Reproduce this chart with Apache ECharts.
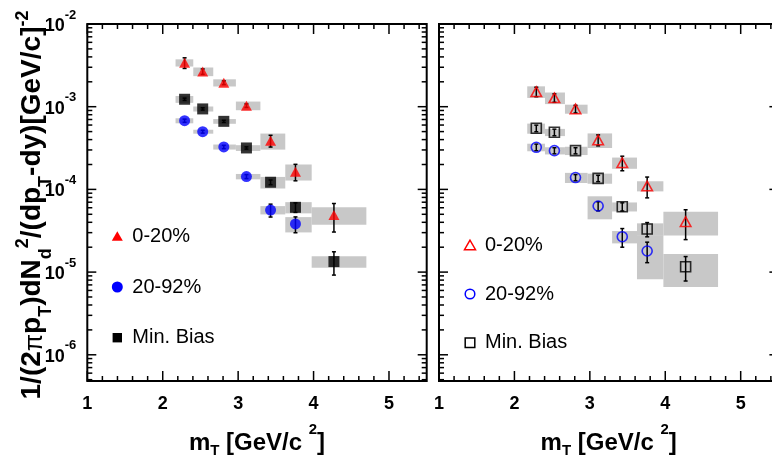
<!DOCTYPE html>
<html>
<head>
<meta charset="utf-8">
<script src="https://cdn.jsdelivr.net/npm/echarts@6/dist/echarts.min.js"></script>
<style>
  html, body { margin: 0; padding: 0; background: #fff; }
  #chart { width: 772px; height: 463px; }
</style>
</head>
<body>
<div id="chart"></div>
<script>
// Deuteron invariant yields vs transverse mass
const mT = [2.29, 2.53, 2.81, 3.11, 3.43, 3.76, 4.27];
const binEdges = [2.17, 2.405, 2.67, 2.97, 3.295, 3.625, 3.975, 4.70];
const xTickLabels = [1, 2, 3, 4, 5];
const yDecadeLabels = [-6, -5, -4, -3, -2];
const legendNames = ['0-20%', '20-92%', 'Min. Bias'];

// left panel: filled markers
const leftCentral     = [3.40e-3, 2.66e-3, 1.95e-3, 1.03e-3, 3.88e-4, 1.64e-4, 4.9e-5];
const leftCentralStat = [0.5e-3, 0.2e-3, 0.1e-3, 0.05e-3, 0.63e-4, 0.37e-4, 1.85e-5];
const leftCentralSys  = [0.10, 0.12, 0.10, 0.12, 0.22, 0.22, 0.24];

const leftPeriph      = [6.77e-4, 4.99e-4, 3.26e-4, 1.43e-4, 5.63e-5, 3.82e-5];
const leftPeriphStat  = [0.3e-4, 0.2e-4, 0.15e-4, 0.08e-4, 1.0e-5, 0.83e-5];
const leftPeriphSys   = [0.07, 0.055, 0.07, 0.075, 0.115, 0.21];

const leftMinBias     = [1.23e-3, 9.4e-4, 6.65e-4, 3.17e-4, 1.22e-4, 6.07e-5, 1.34e-5];
const leftMinBiasStat = [0.4e-4, 0.3e-4, 0.2e-4, 0.1e-4, 0.08e-4, 0.8e-5, 0.42e-5];
const leftMinBiasSys  = [0.095, 0.07, 0.066, 0.08, 0.16, 0.155, 0.16];

// right panel: open markers
const rightCentral     = [1.52e-3, 1.28e-3, 9.4e-4, 3.96e-4, 2.10e-4, 1.10e-4, 4.07e-5];
const rightCentralStat = [0.2e-3, 0.15e-3, 0.1e-3, 0.6e-4, 0.42e-4, 0.31e-4, 1.6e-5];
const rightCentralSys  = [0.16, 0.16, 0.125, 0.20, 0.155, 0.14, 0.32];

const rightPeriph      = [3.23e-4, 2.94e-4, 1.39e-4, 6.3e-5, 2.68e-5, 1.80e-5];
const rightPeriphStat  = [0.3e-4, 0.25e-4, 0.12e-4, 0.8e-5, 0.68e-5, 0.5e-5];
const rightPeriphSys   = [0.105, 0.10, 0.14, 0.31, 0.17, 0.545];

const rightMinBias     = [5.48e-4, 4.9e-4, 2.94e-4, 1.36e-4, 6.18e-5, 3.32e-5, 1.16e-5];
const rightMinBiasStat = [0.5e-4, 0.45e-4, 0.25e-4, 0.12e-4, 0.7e-5, 0.65e-5, 0.38e-5];
const rightMinBiasSys  = [0.14, 0.10, 0.115, 0.14, 0.125, 0.17, 0.43];

const X_MIN = 1, X_MAX = 5.5;
const Y_MIN = 4.82e-7, Y_MAX = 1e-2;
const FONT = '"Liberation Sans", Arial, Helvetica, sans-serif';
const RED = '#ff0000', BLUE = '#0000ff', BLACK = '#000000', BAND = '#c8c8c8';

const chart = echarts.init(document.getElementById('chart'), null, { renderer: 'canvas' });

function sysBoxes(g, vals, sys) {
  return {
    type: 'custom', xAxisIndex: g, yAxisIndex: g, z: 1, silent: true,
    data: vals.map((v, i) => [mT[i], v, sys[i], binEdges[i], binEdges[i + 1]]),
    encode: { x: 0, y: 1 },
    renderItem(params, api) {
      const v = api.value(1), s = api.value(2);
      const p0 = api.coord([api.value(3), v * (1 + s)]);
      const p1 = api.coord([api.value(4), v * (1 - s)]);
      return { type: 'rect', shape: { x: p0[0], y: p0[1], width: p1[0] - p0[0], height: p1[1] - p0[1] },
               style: { fill: BAND } };
    }
  };
}

function statBars(g, vals, stat) {
  return {
    type: 'custom', xAxisIndex: g, yAxisIndex: g, z: 2, silent: true,
    data: vals.map((v, i) => [mT[i], v, stat[i]]),
    encode: { x: 0, y: 1 },
    renderItem(params, api) {
      const x = api.value(0), v = api.value(1), e = api.value(2);
      const top = api.coord([x, v + e]);
      const bot = api.coord([x, Math.max(v - e, v * 0.05)]);
      const st = { stroke: BLACK, lineWidth: 1.5 };
      return { type: 'group', children: [
        { type: 'line', shape: { x1: top[0], y1: top[1], x2: bot[0], y2: bot[1] }, style: st },
        { type: 'line', shape: { x1: top[0] - 2, y1: top[1], x2: top[0] + 2, y2: top[1] }, style: st },
        { type: 'line', shape: { x1: bot[0] - 2, y1: bot[1], x2: bot[0] + 2, y2: bot[1] }, style: st }
      ] };
    }
  };
}

function markers(g, name, vals, symbol, size, itemStyle) {
  return {
    type: 'scatter', name, xAxisIndex: g, yAxisIndex: g, z: 10, silent: true,
    data: vals.map((v, i) => [mT[i], v]),
    symbol, symbolSize: size, itemStyle
  };
}

// frame tick marks on all four sides, drawn through the axis scales
function tickMarks(g) {
  return {
    type: 'custom', xAxisIndex: g, yAxisIndex: g, z: 12, silent: true,
    data: [[X_MIN, Y_MAX]],
    encode: { x: 0, y: 1 },
    renderItem(params, api) {
      const kids = [];
      const st = { stroke: BLACK, lineWidth: 1.5 };
      const yTop = api.coord([X_MIN, Y_MAX])[1];
      const yBot = api.coord([X_MIN, Y_MIN])[1];
      const xL = api.coord([X_MIN, Y_MAX])[0];
      const xR = api.coord([X_MAX, Y_MAX])[0];
      for (let k = 5; k <= 27; k++) {
        const px = api.coord([k / 5, Y_MAX])[0];
        const len = k % 5 === 0 ? 10 : 5;
        kids.push({ type: 'line', shape: { x1: px, y1: yBot, x2: px, y2: yBot - len }, style: st });
        kids.push({ type: 'line', shape: { x1: px, y1: yTop, x2: px, y2: yTop + len }, style: st });
      }
      for (let d = -7; d <= -2; d++) {
        for (let m = 1; m <= 9; m++) {
          const val = m * Math.pow(10, d);
          if (val < Y_MIN * 0.999 || val > Y_MAX * 1.001) continue;
          const py = api.coord([X_MIN, val])[1];
          const len = m === 1 ? 9 : 5;
          kids.push({ type: 'line', shape: { x1: xL, y1: py, x2: xL + len, y2: py }, style: st });
          kids.push({ type: 'line', shape: { x1: xR, y1: py, x2: xR - len, y2: py }, style: st });
        }
      }
      return { type: 'group', children: kids };
    }
  };
}

function xAxisFor(g) {
  return {
    type: 'value', gridIndex: g, min: X_MIN, max: X_MAX, interval: 1,
    axisLine: { show: false }, axisTick: { show: false }, splitLine: { show: false },
    axisLabel: {
      margin: 14, color: BLACK, fontSize: 18, fontWeight: 'bold', fontFamily: FONT,
      formatter: v => (xTickLabels.indexOf(v) >= 0 ? String(v) : '')
    },
    name: '{m|m}{s|T}{m| [GeV/c }{p|2}{m|]}',
    nameLocation: 'middle', nameGap: 62,
    nameTextStyle: {
      verticalAlign: 'middle', color: BLACK,
      rich: {
        m: { fontSize: 24, fontWeight: 'bold', fontFamily: FONT, color: BLACK, lineHeight: 28 },
        s: { fontSize: 15, fontWeight: 'bold', fontFamily: FONT, color: BLACK, lineHeight: 15, padding: [16, 0, 0, 0] },
        p: { fontSize: 15, fontWeight: 'bold', fontFamily: FONT, color: BLACK, lineHeight: 15, padding: [0, 0, 26, 0] }
      }
    }
  };
}

function yAxisFor(g, withLabels) {
  return {
    type: 'log', logBase: 10, gridIndex: g, min: Y_MIN, max: Y_MAX,
    axisLine: { show: false }, axisTick: { show: false }, splitLine: { show: false },
    axisLabel: {
      show: withLabels, margin: 11,
      formatter: v => {
        const p = Math.round(Math.log10(v));
        if (Math.abs(Math.log10(v) - p) > 1e-6 || yDecadeLabels.indexOf(p) < 0) return '';
        return '{b|10}{e|' + p + '}';
      },
      rich: {
        b: { fontSize: 18, fontWeight: 'bold', fontFamily: FONT, color: BLACK, lineHeight: 18, padding: [4, 0, 0, 0] },
        e: { fontSize: 13, fontWeight: 'bold', fontFamily: FONT, color: BLACK, lineHeight: 13, padding: [0, 0, 18, 0] }
      }
    }
  };
}

function legendGroup(x0, y0, gap, filled) {
  const kids = [];
  const sw = 1.5;
  kids.push({ type: 'polygon', shape: { points: [[x0, y0 - 5], [x0 - 5.5, y0 + 4.5], [x0 + 5.5, y0 + 4.5]] },
    style: filled ? { fill: RED } : { fill: 'none', stroke: RED, lineWidth: sw } });
  kids.push({ type: 'circle', shape: { cx: x0, cy: y0 + gap, r: filled ? 5.5 : 4.8 },
    style: filled ? { fill: BLUE } : { fill: 'none', stroke: BLUE, lineWidth: sw } });
  const q = filled ? 4.7 : 4.8;
  kids.push({ type: 'rect', shape: { x: x0 - q, y: y0 + 2 * gap - q, width: 2 * q, height: 2 * q },
    style: filled ? { fill: BLACK } : { fill: 'none', stroke: BLACK, lineWidth: sw } });
  legendNames.forEach((t, i) => {
    kids.push({ type: 'text', x: x0 + 15, y: y0 + i * gap,
      style: { text: t, fontSize: 20, fontFamily: FONT, fill: BLACK, align: 'left', verticalAlign: 'middle' } });
  });
  return kids;
}

const yTitle = '{m|1/(2}{pi|π}{m|p}{s|T}{m|)dN}{s|d}{p|2}{m|/(dp}{s|T}{m|-dy)[GeV/c]}{p|-2}';

const option = {
  animation: false,
  backgroundColor: '#ffffff',
  grid: [
    { left: 87.3, top: 24, width: 339.4, height: 357, outerBoundsMode: 'none', containLabel: false,
      show: true, borderColor: BLACK, borderWidth: 2, backgroundColor: 'transparent' },
    { left: 439, top: 24, width: 339.4, height: 357, outerBoundsMode: 'none', containLabel: false,
      show: true, borderColor: BLACK, borderWidth: 2, backgroundColor: 'transparent' }
  ],
  xAxis: [xAxisFor(0), xAxisFor(1)],
  yAxis: [yAxisFor(0, true), yAxisFor(1, false)],
  series: [
    sysBoxes(0, leftCentral, leftCentralSys),
    sysBoxes(0, leftPeriph, leftPeriphSys),
    sysBoxes(0, leftMinBias, leftMinBiasSys),
    sysBoxes(1, rightCentral, rightCentralSys),
    sysBoxes(1, rightPeriph, rightPeriphSys),
    sysBoxes(1, rightMinBias, rightMinBiasSys),
    statBars(0, leftCentral, leftCentralStat),
    statBars(0, leftPeriph, leftPeriphStat),
    statBars(0, leftMinBias, leftMinBiasStat),
    statBars(1, rightCentral, rightCentralStat),
    statBars(1, rightPeriph, rightPeriphStat),
    statBars(1, rightMinBias, rightMinBiasStat),
    markers(0, '0-20%', leftCentral, 'triangle', [11, 10], { color: RED }),
    markers(0, '20-92%', leftPeriph, 'circle', 11, { color: BLUE }),
    markers(0, 'Min. Bias', leftMinBias, 'rect', 11, { color: BLACK }),
    markers(1, '0-20% open', rightCentral, 'triangle', [10.5, 9.5], { color: 'rgba(0,0,0,0)', borderColor: RED, borderWidth: 1.6 }),
    markers(1, '20-92% open', rightPeriph, 'circle', 10, { color: 'rgba(0,0,0,0)', borderColor: BLUE, borderWidth: 1.6 }),
    markers(1, 'Min. Bias open', rightMinBias, 'rect', 10, { color: 'rgba(0,0,0,0)', borderColor: BLACK, borderWidth: 1.6 }),
    tickMarks(0),
    tickMarks(1)
  ],
  graphic: [
    {
      type: 'text', x: 32, y: 205, rotation: Math.PI / 2, silent: true,
      style: {
        text: yTitle, align: 'center', verticalAlign: 'middle', fill: BLACK,
        rich: {
          m: { fontSize: 28, fontWeight: 'bold', fontFamily: FONT, fill: BLACK, lineHeight: 30 },
          pi: { fontSize: 25, fontWeight: 'normal', fontFamily: FONT, fill: BLACK, lineHeight: 25, padding: [6, 0, 0, 0] },
          s: { fontSize: 18, fontWeight: 'bold', fontFamily: FONT, fill: BLACK, lineHeight: 18, padding: [28, 0, 0, 0] },
          p: { fontSize: 18, fontWeight: 'bold', fontFamily: FONT, fill: BLACK, lineHeight: 18, padding: [0, 0, 18, 0] }
        }
      }
    },
    { type: 'group', silent: true, children: legendGroup(117.3, 236.3, 50.7, true) },
    { type: 'group', silent: true, children: legendGroup(470, 245.2, 48.8, false) }
  ]
};

chart.setOption(option);
</script>
</body>
</html>
